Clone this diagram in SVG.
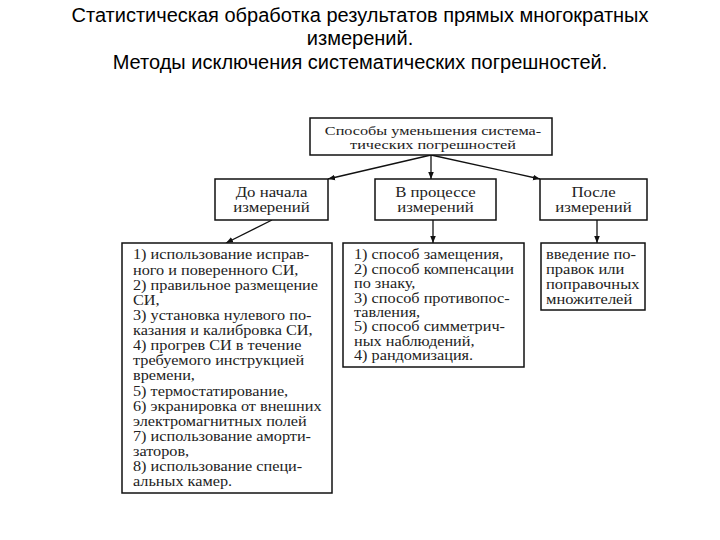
<svg xmlns="http://www.w3.org/2000/svg" width="720" height="540" viewBox="0 0 720 540">
<defs>
<marker id="ah" viewBox="0 0 10 10" refX="10" refY="5" markerWidth="7" markerHeight="7" markerUnits="userSpaceOnUse" orient="auto">
<path d="M0,1 L10,5 L0,9 z" fill="#111"/>
</marker>
</defs>
<style>
.box{fill:#fff;stroke:#111;stroke-width:1.5}
.t{font-family:"Liberation Serif","Times New Roman",serif;font-size:14px;fill:#222}
.c{text-anchor:middle}
.title{font-family:"Liberation Sans",Arial,sans-serif;font-size:20px;fill:#000;text-anchor:middle}
.ln{stroke:#111;stroke-width:1.3;fill:none;marker-end:url(#ah)}
</style>
<rect width="720" height="540" fill="#fff"/>
<g id="title">
<text class="title" x="360" y="22">Статистическая обработка результатов прямых многократных</text>
<text class="title" x="360" y="45">измерений.</text>
<text class="title" x="360" y="69">Методы исключения систематических погрешностей.</text>
</g>
<g id="connectors">
<line class="ln" x1="431" y1="155" x2="328" y2="179"/>
<line class="ln" x1="431" y1="155" x2="431" y2="179"/>
<line class="ln" x1="431" y1="155" x2="540" y2="179"/>
<line class="ln" x1="272" y1="220" x2="226" y2="243"/>
<line class="ln" x1="433" y1="220" x2="433" y2="243"/>
<line class="ln" x1="597" y1="220" x2="597" y2="243"/>
</g>
<g id="root">
<rect class="box" x="310" y="118" width="242" height="37"/>
<g transform="matrix(1.2 0 0 1 433 0)">
<text class="t c" x="0" y="135" style="font-size:13.5px">Способы уменьшения система-</text>
<text class="t c" x="0" y="149.5" style="font-size:13.5px">тических погрешностей</text>
</g>
</g>
<g id="before">
<rect class="box" x="215" y="179" width="113" height="41"/>
<g transform="matrix(1.2 0 0 1 271.5 0)">
<text class="t c" x="0" y="197">До начала</text>
<text class="t c" x="0" y="212">измерений</text>
</g>
</g>
<g id="during">
<rect class="box" x="375" y="179" width="121" height="41"/>
<g transform="matrix(1.2 0 0 1 435.5 0)">
<text class="t c" x="0" y="197">В процессе</text>
<text class="t c" x="0" y="212">измерений</text>
</g>
</g>
<g id="after">
<rect class="box" x="540" y="179" width="107" height="41"/>
<g transform="matrix(1.2 0 0 1 593.5 0)">
<text class="t c" x="0" y="197">После</text>
<text class="t c" x="0" y="212">измерений</text>
</g>
</g>
<g id="before-list">
<rect class="box" x="122" y="243" width="210" height="250"/>
<g transform="matrix(1.16 0 0 1 133 0)">
<text class="t" x="0" y="259.5">1) использование исправ-</text>
<text class="t" x="0" y="274.6">ного и поверенного СИ,</text>
<text class="t" x="0" y="289.8">2) правильное размещение</text>
<text class="t" x="0" y="304.9">СИ,</text>
<text class="t" x="0" y="320">3) установка нулевого по-</text>
<text class="t" x="0" y="335.2">казания и калибровка СИ,</text>
<text class="t" x="0" y="350.3">4) прогрев СИ в течение</text>
<text class="t" x="0" y="365.4">требуемого инструкцией</text>
<text class="t" x="0" y="380.5">времени,</text>
<text class="t" x="0" y="395.7">5) термостатирование,</text>
<text class="t" x="0" y="410.8">6) экранировка от внешних</text>
<text class="t" x="0" y="425.9">электромагнитных полей</text>
<text class="t" x="0" y="441">7) использование аморти-</text>
<text class="t" x="0" y="456.2">заторов,</text>
<text class="t" x="0" y="471.3">8) использование специ-</text>
<text class="t" x="0" y="486.4">альных камер.</text>
</g>
</g>
<g id="during-list">
<rect class="box" x="343" y="243" width="181" height="124"/>
<g transform="matrix(1.16 0 0 1 354 0)">
<text class="t" x="0" y="259.5">1) способ замещения,</text>
<text class="t" x="0" y="273.9">2) способ компенсации</text>
<text class="t" x="0" y="288.2">по знаку,</text>
<text class="t" x="0" y="302.6">3) способ противопос-</text>
<text class="t" x="0" y="316.9">тавления,</text>
<text class="t" x="0" y="331.3">5) способ симметрич-</text>
<text class="t" x="0" y="345.6">ных наблюдений,</text>
<text class="t" x="0" y="360">4) рандомизация.</text>
</g>
</g>
<g id="after-list">
<rect class="box" x="541" y="243" width="104" height="67"/>
<g transform="matrix(1.18 0 0 1 546 0)">
<text class="t" x="0" y="259.5">введение по-</text>
<text class="t" x="0" y="274.5">правок или</text>
<text class="t" x="0" y="289.5">поправочных</text>
<text class="t" x="0" y="304.5">множителей</text>
</g>
</g>
</svg>
